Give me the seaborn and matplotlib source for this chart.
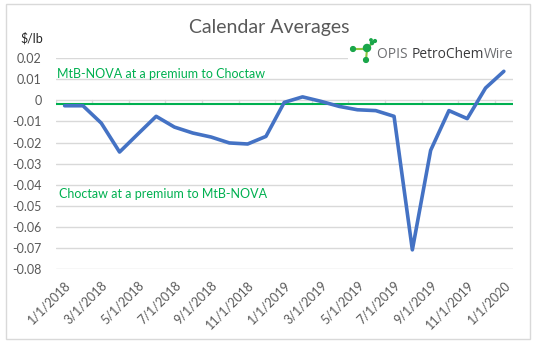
import matplotlib
matplotlib.use("Agg")
import matplotlib.pyplot as plt
import seaborn as sns
import pandas as pd
from matplotlib.patches import Rectangle

# ---- data ----
months = ["1/1/2018", "2/1/2018", "3/1/2018", "4/1/2018", "5/1/2018", "6/1/2018",
          "7/1/2018", "8/1/2018", "9/1/2018", "10/1/2018", "11/1/2018", "12/1/2018",
          "1/1/2019", "2/1/2019", "3/1/2019", "4/1/2019", "5/1/2019", "6/1/2019",
          "7/1/2019", "8/1/2019", "9/1/2019", "10/1/2019", "11/1/2019", "12/1/2019",
          "1/1/2020"]
spread = [-0.0026, -0.0026, -0.0108, -0.0245, -0.0160, -0.0076, -0.0127, -0.0155,
          -0.0174, -0.0202, -0.0207, -0.0171, -0.0010, 0.0016, -0.0005, -0.0029,
          -0.0045, -0.0049, -0.0076, -0.0708, -0.0237, -0.0049, -0.0087, 0.0058,
          0.0137]
y_ticks = [0.02, 0.01, 0, -0.01, -0.02, -0.03, -0.04, -0.05, -0.06, -0.07, -0.08]
y_tick_labels = ["0.02", "0.01", "0", "-0.01", "-0.02", "-0.03", "-0.04", "-0.05",
                 "-0.06", "-0.07", "-0.08"]
ref_level = -0.0018
title = "Calendar Averages"
unit_label = "$/lb"
upper_note = "MtB-NOVA at a premium to Choctaw"
lower_note = "Choctaw at a premium to MtB-NOVA"
logo_parts = ["OPIS ", "PetroChem", "Wire"]

df = pd.DataFrame({"idx": range(len(months)), "month": months, "spread": spread})

sns.set_style("white")
plt.rcParams["font.family"] = ["Lato", "DejaVu Sans"]

W, H = 538, 345
fig = plt.figure(figsize=(W / 100, H / 100), dpi=100)
ax = fig.add_axes([55.5 / W, 1 - 269.3 / H, 457.5 / W, (269.3 - 58) / H])

grid_c = "#D9D9D9"
txt_c = "#595959"
green = "#00B050"

for t in y_ticks:
    ax.axhline(t, color=grid_c, lw=1.0, zorder=0)

# x-axis tick marks at category boundaries (every 2 categories), hanging below 0
for b in range(0, len(months) + 1, 2):
    ax.plot([b - 0.5, b - 0.5], [0, -0.0018], color=grid_c, lw=1.0, zorder=0)

ax.axhline(ref_level, color=green, lw=1.5, zorder=2)

sns.lineplot(data=df, x="idx", y="spread", ax=ax, color="#4472C4", lw=2.6,
             zorder=3, legend=False)

ax.set_xlim(-0.5, len(months) - 0.5)
ax.set_ylim(-0.08, 0.02)
ax.set_yticks(y_ticks)
ax.set_yticklabels(y_tick_labels)
ax.set_xticks(list(range(0, len(months), 2)))
ax.set_xticklabels(months[::2], rotation=45, ha="right", rotation_mode="anchor")
ax.tick_params(axis="both", length=0, colors=txt_c, labelsize=9)
ax.tick_params(axis="y", pad=10)
ax.tick_params(axis="x", pad=7)
ax.set_xlabel("")
ax.set_ylabel("")
for s in ax.spines.values():
    s.set_visible(False)

ax.text(-0.4, 0.0126, upper_note, color=green, fontsize=9, va="center", ha="left")
ax.text(-0.3, -0.0444, lower_note, color=green, fontsize=9, va="center", ha="left")

# overlay in pixel coordinates for frame, title and logo
ov = fig.add_axes([0, 0, 1, 1], facecolor="none")
ov.set_xlim(0, W)
ov.set_ylim(H, 0)
ov.axis("off")
ov.add_patch(Rectangle((6, 4), 524, 335, fill=False, ec=grid_c, lw=1.0))
ov.text(269, 28, title, ha="center", va="center", fontsize=14, color=txt_c)
ov.text(20, 38, unit_label, ha="left", va="center", fontsize=9, color="#262626")

# logo
ov.add_patch(Rectangle((348, 38), 168, 25, fc="white", ec="none", zorder=1))
lime = "#8DC63F"
lg = "#1AA64A"
ov.plot([353, 367], [49, 49], color=lime, lw=1.5, zorder=2)
ov.plot([367, 366], [49, 60], color=lime, lw=1.5, zorder=2)
ov.plot([367, 372], [49, 43], color=lime, lw=1.5, zorder=2)
ov.scatter([353, 367, 366, 372, 375, 371], [49, 48, 60, 43, 41, 40],
           s=[12, 26, 12, 5, 4, 3], color=lg, zorder=3)

renderer = fig.canvas.get_renderer()
logo_colors = ["#6D6E71", "#3A3A3C", "#6D6E71"]
x0, x1 = 377, 513
ty = 54
fs = 10.0
for _ in range(3):
    widths = []
    tmp = []
    for p in logo_parts:
        t = ov.text(0, ty, p, fontsize=fs, family=["Open Sans", "DejaVu Sans"])
        bb = t.get_window_extent(renderer)
        widths.append(bb.width)
        tmp.append(t)
    for t in tmp:
        t.remove()
    fs = fs * (x1 - x0) / sum(widths)
xc = x0
for p, c in zip(logo_parts, logo_colors):
    t = ov.text(xc, ty, p, ha="left", va="center", fontsize=fs, color=c,
                family=["Open Sans", "DejaVu Sans"], zorder=3)
    bb = t.get_window_extent(renderer)
    xc += bb.width

fig.savefig("out.png", dpi=100)
